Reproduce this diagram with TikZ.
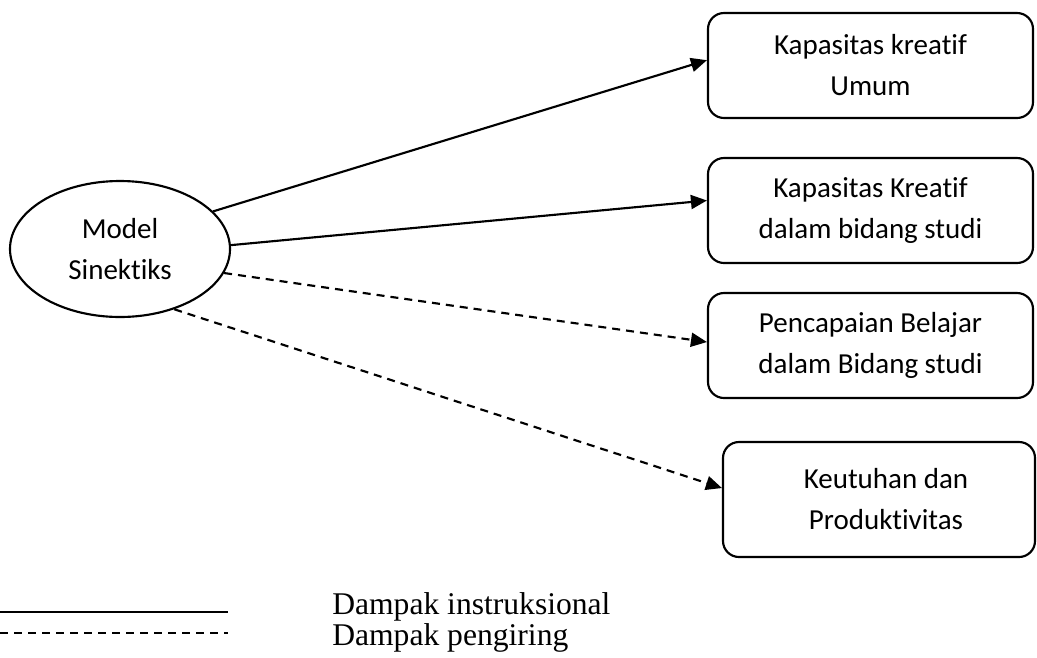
\documentclass[tikz,border=0pt]{standalone}
\usepackage{fontspec}
\setmainfont{Liberation Serif}
\newfontfamily\boxfont[Ligatures={NoCommon}]{Carlito}
\usetikzlibrary{shapes.geometric,arrows.meta}
\tikzset{
  box/.style={draw, line width=1.6pt, rounded corners=12pt, align=center, inner sep=0pt,
    font=\boxfont\fontsize{21.75}{30.75}\selectfont},
  oval/.style={draw, ellipse, line width=1.6pt, align=center, inner sep=0pt,
    minimum width=165pt, minimum height=102pt,
    font=\boxfont\fontsize{21.75}{30.75}\selectfont},
  arr/.style={line width=1.6pt, -{Triangle[length=12pt,width=10.5pt]}},
  dasharr/.style={arr, dash pattern=on 6pt off 4.5pt},
  legtext/.style={anchor=base west, inner sep=0pt, font=\fontsize{23.7}{28}\selectfont}
}
\begin{document}
\begin{tikzpicture}[x=0.75pt,y=-0.75pt]
\useasboundingbox (0,0) rectangle (1037,657);
\node[oval] (m) at (120,249) {Model\\Sinektiks};
\node[box, minimum width=243.75pt, minimum height=78.75pt] (b1) at (870.5,65.5) {Kapasitas kreatif\\Umum};
\node[box, minimum width=243.75pt, minimum height=78.75pt] (b2) at (870.5,210.5) {Kapasitas Kreatif\\dalam bidang studi};
\node[box, minimum width=243.75pt, minimum height=78.75pt] (b3) at (870.5,345.5) {Pencapaian Belajar\\dalam Bidang studi};
\node[box, minimum width=234pt, minimum height=86.25pt] (b4) at (879,499.5) {\hspace*{10.5pt}Keutuhan dan\\\hspace*{10.5pt}Produktivitas};
\draw[arr] (m.22.8) -- ([yshift=4pt]b1.west);
\draw[arr] (m.2.6) -- ([yshift=7.5pt]b2.west);
\draw[dasharr] (m.-13) -- ([yshift=2.6pt]b3.west);
\draw[dasharr] (m.-48.4) -- ([yshift=8.6pt]b4.west);
\coordinate (s1) at (0,612);
\coordinate (s2) at (228,612);
\coordinate (d1) at (0,633);
\coordinate (d2) at (228,633);
\draw[line width=1.6pt] (s1) -- (s2);
\draw[line width=0.8pt, dash pattern=on 6pt off 4.5pt] (d1) -- (d2);
\node[legtext] (l1) at (332,614) {Dampak instruksional};
\node[legtext] (l2) at (332,645) {Dampak pengiring};
\end{tikzpicture}
\end{document}
